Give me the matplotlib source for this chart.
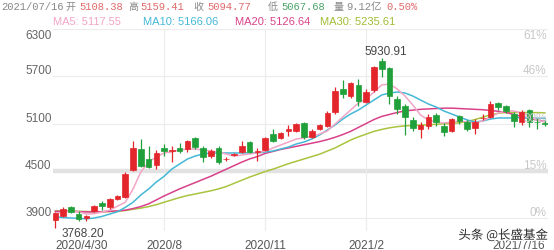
import matplotlib
matplotlib.use("Agg")
import matplotlib.pyplot as plt
import matplotlib.patheffects as pe

plt.rcParams["font.family"] = ["Liberation Sans", "Noto Sans CJK SC", "DejaVu Sans"]

# weekly candles, 2020/4/30 .. 2021/7/16 (index 0..63)
opens = [3880, 3925, 4040, 3951, 3900, 3989, 4091, 4040, 4141, 4167,
         4510, 4776, 4650, 4573, 4789, 4751, 4789, 4776, 4916, 4789,
         4688, 4789, 4645, 4700, 4738, 4865, 4740, 4764, 4967, 4916,
         5005, 5005, 5106, 4929, 5030, 5068, 5246, 5538, 5449, 5589,
         5373, 5526, 5900, 5805, 5411, 5322, 5145, 5030, 5068, 5208,
         5068, 5005, 5195, 5119, 5043, 5165, 5183, 5360, 5322, 5221,
         5119, 5271, 5125, 5108.38]
highs = [3975, 4040, 4052, 3990, 3938, 4065, 4110, 4160, 4195, 4484,
         4878, 4903, 4814, 4764, 4840, 4814, 4853, 4891, 4929, 4814,
         4776, 4814, 4675, 4720, 4878, 4878, 4790, 4929, 5030, 4992,
         5081, 5106, 5119, 5030, 5094, 5259, 5564, 5653, 5630, 5665,
         5540, 5830, 5930.91, 5818, 5449, 5348, 5183, 5119, 5221, 5233,
         5106, 5170, 5208, 5145, 5157, 5221, 5386, 5373, 5335, 5246,
         5271, 5284, 5170, 5159.41]
lows = [3768.20, 3915, 3965, 3862, 3862, 3976, 4002, 4020, 4130, 4150,
        4500, 4548, 4530, 4522, 4687, 4611, 4730, 4740, 4776, 4611,
        4660, 4590, 4620, 4690, 4726, 4726, 4630, 4750, 4865, 4900,
        4941, 4995, 4900, 4910, 5018, 5056, 5221, 5424, 5424, 5322,
        5360, 5500, 5691, 5348, 5221, 4954, 5005, 4916, 5030, 5068,
        4941, 4992, 5094, 5005, 4967, 5145, 5170, 5271, 5233, 5060,
        5081, 5056, 5030, 5067.68]
closes = [3960, 4014, 3976, 3887, 3925, 4052, 4052, 4141, 4179, 4459,
          4789, 4560, 4548, 4726, 4751, 4763, 4751, 4878, 4801, 4675,
          4751, 4611, 4655, 4706, 4814, 4738, 4752, 4916, 4878, 4980,
          5025, 5094, 4929, 5005, 5081, 5233, 5513, 5475, 5615, 5386,
          5500, 5818, 5790, 5449, 5284, 5183, 5043, 5081, 5183, 5119,
          4992, 5157, 5132, 5030, 5119, 5175, 5348, 5310, 5259, 5132,
          5246, 5119, 5115, 5094.77]

ma5 = [3960, 3975, 3990, 3980, 3950, 3955, 3975, 4000, 4050, 4100,
       4268, 4484, 4611, 4675, 4726, 4738, 4764, 4776, 4776, 4764,
       4751, 4738, 4713, 4687, 4700, 4713, 4726, 4751, 4789, 4827,
       4865, 4903, 4916, 4941, 4967, 5005, 5094, 5183, 5271, 5360,
       5411, 5500, 5589, 5602, 5538, 5449, 5335, 5208, 5145, 5119,
       5106, 5119, 5132, 5119, 5106, 5132, 5183, 5233, 5259, 5259,
       5233, 5195, 5145, 5117.55]
ma10 = [3915, 3905, 3900, 3895, 3890, 3900, 3920, 3950, 3980, 4035,
        4100, 4192, 4268, 4357, 4430, 4522, 4586, 4649, 4687, 4713,
        4726, 4726, 4726, 4726, 4726, 4726, 4726, 4738, 4751, 4776,
        4801, 4840, 4865, 4903, 4954, 5018, 5081, 5157, 5221, 5271,
        5335, 5398, 5462, 5487, 5500, 5487, 5449, 5398, 5348, 5310,
        5259, 5221, 5183, 5145, 5119, 5132, 5157, 5170, 5170, 5172,
        5175, 5172, 5168, 5166.06]
ma20 = [3985, 3985, 3985, 3980, 3978, 3978, 3980, 3985, 3990, 4000,
        4020, 4045, 4080, 4130, 4180, 4225, 4270, 4310, 4350, 4390,
        4430, 4475, 4520, 4565, 4610, 4650, 4680, 4720, 4745, 4770,
        4790, 4810, 4830, 4850, 4870, 4895, 4925, 4960, 5000, 5050,
        5100, 5150, 5190, 5215, 5240, 5260, 5270, 5280, 5285, 5290,
        5295, 5295, 5290, 5285, 5280, 5275, 5265, 5255, 5240, 5215,
        5190, 5165, 5145, 5126.64]
ma30 = [3990, 3990, 3988, 3985, 3982, 3980, 3980, 3982, 3985, 3995,
        4010, 4025, 4045, 4070, 4100, 4130, 4160, 4185, 4205, 4225,
        4245, 4270, 4300, 4340, 4380, 4420, 4455, 4490, 4520, 4555,
        4590, 4620, 4650, 4680, 4710, 4750, 4790, 4840, 4890, 4930,
        4965, 5000, 5025, 5045, 5060, 5070, 5075, 5080, 5085, 5090,
        5095, 5100, 5110, 5125, 5150, 5180, 5210, 5230, 5240, 5240,
        5240, 5240, 5238, 5235.61]

date_ticks = [0, 14, 27, 40, 63]
date_labels = ["2020/4/30", "2020/8", "2020/11", "2021/2", "2021/7/16"]
price_ticks = [3900, 4500, 5100, 5700, 6300]
pct_labels = ["0%", "15%", "30%", "46%", "61%"]

RED = "#e3262b"
GREEN = "#20a03a"
MA_COLORS = {"MA5": "#f2a5c6", "MA10": "#45b8d6", "MA20": "#d9428a", "MA30": "#a9c43f"}

W, H = 554, 251
fig = plt.figure(figsize=(W / 100, H / 100), dpi=100)
ax = fig.add_axes([53 / W, (H - 232) / H, (548 - 53) / W, (232 - 30) / H])
ax.set_xlim(-0.3, 63.4)
ax.set_ylim(3735, 6300)

# grid
for p in price_ticks:
    if p == 4500:
        ax.axhline(p, color="#e2e2e2", lw=3.2, zorder=0)
    else:
        ax.axhline(p, color="#ececec", lw=0.8, zorder=0)
for t in date_ticks[1:4]:
    ax.axvline(t, color="#ececec", lw=0.8, zorder=0)

# moving averages
idx = list(range(len(closes)))
ax.plot(idx, ma30, color=MA_COLORS["MA30"], lw=1.1, zorder=2)
ax.plot(idx, ma20, color=MA_COLORS["MA20"], lw=1.1, zorder=2)
ax.plot(idx, ma10, color=MA_COLORS["MA10"], lw=1.1, zorder=2)
ax.plot(idx, ma5, color=MA_COLORS["MA5"], lw=1.1, zorder=2)

# candles
for i in idx:
    o, h, l, c = opens[i], highs[i], lows[i], closes[i]
    col = RED if c >= o else GREEN
    ax.vlines(i, l, h, color=col, lw=0.9, zorder=3)
    body = max(abs(c - o), 8)
    ax.bar(i, body, bottom=min(o, c), width=0.72, color=col,
           edgecolor=col, lw=0.5, zorder=4)

# high / low labels
ax.annotate("5930.91", xy=(42, 5930.91), xytext=(4, 7), textcoords="offset pixels",
            ha="center", va="center", fontsize=8.5, color="#444444")
ax.annotate("3768.20", xy=(0, 3768.20), xytext=(6, -5), textcoords="offset pixels",
            ha="left", va="center", fontsize=8.5, color="#444444")

for s in ax.spines.values():
    s.set_visible(False)

ax.set_yticks(price_ticks)
ax.set_yticklabels([str(p) for p in price_ticks])
ax.tick_params(axis="y", length=0, pad=1, labelsize=8.5, labelcolor="#666666")
for lab in ax.get_yticklabels():
    lab.set_va("top" if lab.get_text() == "6300" else "bottom")

ax.set_xticks(date_ticks)
ax.set_xticklabels(date_labels)
ax.tick_params(axis="x", length=0, pad=5.5, labelsize=8.5, labelcolor="#555555")
xl = ax.get_xticklabels()
xl[0].set_ha("left")
xl[-1].set_ha("right")

ax2 = ax.twinx()
ax2.set_ylim(ax.get_ylim())
ax2.set_yticks(price_ticks)
ax2.set_yticklabels(pct_labels)
ax2.tick_params(axis="y", length=0, pad=-1, labelsize=8.5, labelcolor="#c8c8c8")
for lab in ax2.get_yticklabels():
    lab.set_ha("right")
    lab.set_va("top" if lab.get_text() == "61%" else "bottom")
for s in ax2.spines.values():
    s.set_visible(False)


def ftext(x, y, s, color, family, size=7.6):
    fig.text(x / W, 1 - y / H, s, color=color, family=family, fontsize=size,
             ha="left", va="center")


# header line 1
GRAY = "#888888"
VRED = "#e06a6a"
VGREEN = "#4aa56a"
mono = ["Liberation Mono", "Noto Sans CJK SC"]
cjk = ["Noto Sans CJK SC"]
ftext(1, 7, "2021/07/16", GRAY, mono)
ftext(66, 7, "开", GRAY, cjk, 7.2)
ftext(79, 7, "5108.38", VRED, mono)
ftext(128, 7, "高", GRAY, cjk, 7.2)
ftext(140, 7, "5159.41", VRED, mono)
ftext(193, 7, "收", GRAY, cjk, 7.2)
ftext(207, 7, "5094.77", VRED, mono)
ftext(268, 7, "低", GRAY, cjk, 7.2)
ftext(281, 7, "5067.68", VGREEN, mono)
ftext(334, 7, "量", GRAY, cjk, 7.2)
ftext(346, 7, "9.12亿", GRAY, mono)
ftext(386, 7, "0.50%", VRED, mono)

# header line 2
ftext(53, 22, "MA5: 5117.55", MA_COLORS["MA5"], ["Liberation Sans"], 8)
ftext(143, 22, "MA10: 5166.06", MA_COLORS["MA10"], ["Liberation Sans"], 8)
ftext(235, 22, "MA20: 5126.64", MA_COLORS["MA20"], ["Liberation Sans"], 8)
ftext(320, 22, "MA30: 5235.61", "#a0bd35", ["Liberation Sans"], 8)

# watermark (overlaps the last date label, as in the source image)
fig.text(548 / W, 1 - 236 / H, "头条 @长盛基金", family=["Noto Sans CJK SC"],
         fontsize=9, color="#2a2a2a", ha="right", va="center",
         path_effects=[pe.withStroke(linewidth=2, foreground="white")])

fig.savefig("out.png", dpi=100)
